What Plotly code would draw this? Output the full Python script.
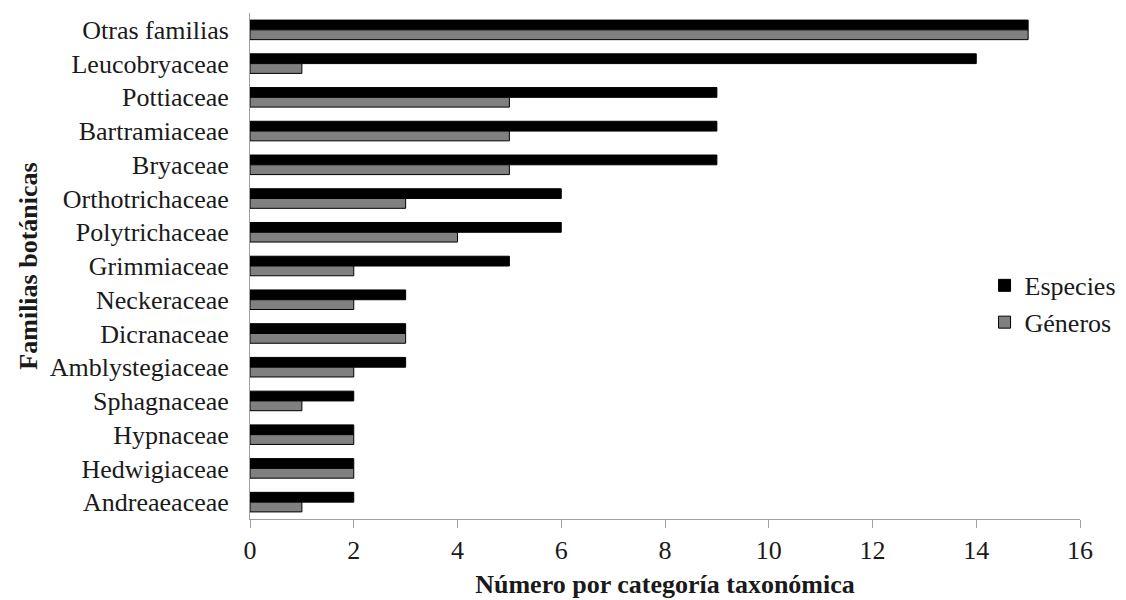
import plotly.graph_objects as go

familias = ["Otras familias", "Leucobryaceae", "Pottiaceae", "Bartramiaceae", "Bryaceae",
            "Orthotrichaceae", "Polytrichaceae", "Grimmiaceae", "Neckeraceae", "Dicranaceae",
            "Amblystegiaceae", "Sphagnaceae", "Hypnaceae", "Hedwigiaceae", "Andreaeaceae"]
especies = [15, 14, 9, 9, 9, 6, 6, 5, 3, 3, 3, 2, 2, 2, 2]
generos = [15, 1, 5, 5, 5, 3, 4, 2, 2, 3, 2, 1, 2, 2, 1]
x_ticks = [0, 2, 4, 6, 8, 10, 12, 14, 16]

FONT = "Liberation Serif, Times New Roman, serif"
FS = 26

fig = go.Figure()
fig.add_trace(go.Bar(y=familias, x=especies, orientation="h", name="Especies",
                     marker=dict(color="#000000", line=dict(color="#000000", width=1))))
fig.add_trace(go.Bar(y=familias, x=generos, orientation="h", name="Géneros",
                     marker=dict(color="#808080", line=dict(color="#000000", width=1))))

fig.update_layout(
    width=1126, height=600,
    barmode="group", bargap=0.42, bargroupgap=0,
    plot_bgcolor="white", paper_bgcolor="white",
    margin=dict(l=250, r=46, t=13, b=81, autoexpand=False),
    font=dict(family=FONT, size=FS, color="#1a1a1a"),
    showlegend=True,
    legend=dict(x=0.885, y=0.425, xanchor="left", yanchor="middle",
                font=dict(size=FS, family=FONT), bgcolor="rgba(0,0,0,0)", itemwidth=30),
    xaxis=dict(range=[0, 16], tickvals=x_ticks, ticktext=[str(v) for v in x_ticks],
               automargin=False,
               showgrid=False, zeroline=False, showline=True, linecolor="#a0a0a0", linewidth=1,
               ticks="outside", ticklen=8, tickcolor="#a0a0a0",
               tickfont=dict(size=FS, family=FONT),
               title=dict(text="<b>Número por categoría taxonómica</b>", font=dict(size=FS, family=FONT), standoff=10)),
    yaxis=dict(categoryorder="array", categoryarray=familias, autorange="reversed",
               automargin=False,
               showgrid=False, showline=True, linecolor="#a0a0a0", linewidth=1,
               ticks="", ticklabelstandoff=15,
               tickfont=dict(size=FS, family=FONT),
               title=dict(text="<b>Familias botánicas</b>", font=dict(size=FS, family=FONT), standoff=4)),
)

fig.write_html("out.html", config={"displayModeBar": False},
               post_script="document.body.style.margin='0';document.body.style.overflow='hidden';")
